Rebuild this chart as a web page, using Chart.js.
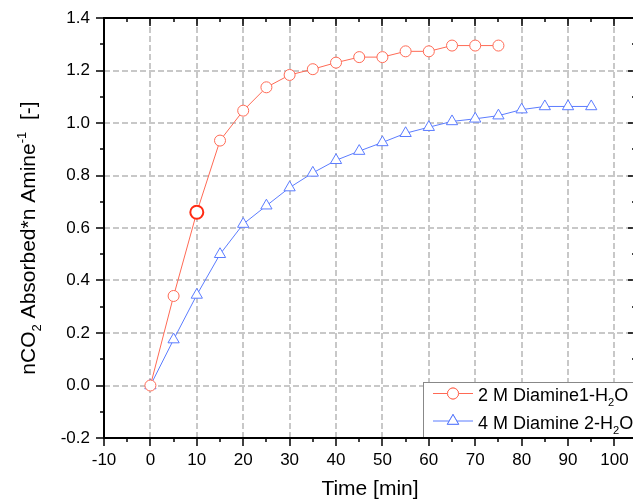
<!DOCTYPE html>
<html>
<head>
<meta charset="utf-8">
<script src="https://cdn.jsdelivr.net/npm/chart.js@4.4.1/dist/chart.umd.min.js"></script>
<style>
  html, body { margin: 0; padding: 0; background: #fff; overflow: hidden; }
  canvas { display: block; }
</style>
</head>
<body>
<canvas id="chart" width="633" height="502"></canvas>
<script>
// absorption runs, time in minutes
const timeDiamine1 = [0, 5, 10, 15, 20, 25, 30, 35, 40, 45, 50, 55, 60, 65, 70, 75];
const loadDiamine1 = [0, 0.341, 0.66, 0.933, 1.047, 1.136, 1.183, 1.205, 1.23, 1.251, 1.251, 1.273, 1.273, 1.295, 1.295, 1.295];

const timeDiamine2 = [0, 5, 10, 15, 20, 25, 30, 35, 40, 45, 50, 55, 60, 65, 70, 75, 80, 85, 90, 95];
const loadDiamine2 = [0, 0.175, 0.345, 0.50, 0.615, 0.685, 0.754, 0.81, 0.858, 0.893, 0.926, 0.961, 0.984, 1.006, 1.016, 1.028, 1.051, 1.063, 1.063, 1.063];

const xTickValues = [-10, 0, 10, 20, 30, 40, 50, 60, 70, 80, 90, 100];
const yTickValues = [-0.2, 0, 0.2, 0.4, 0.6, 0.8, 1.0, 1.2, 1.4];

const seriesNames = [
  [['2 M Diamine1-H', 0], ['2', -1], ['O', 0]],
  [['4 M Diamine 2-H', 0], ['2', -1], ['O', 0]]
];
const xTitle = [['Time [min]', 0]];
const yTitle = [['nCO', 0], ['2', -1], [' Absorbed*n Amine', 0], ['-1', 1], ['  [-]', 0]];

const xRange = [-10, 104];
const yRange = [-0.2, 1.4];

const FONT = "'Liberation Sans', Arial, sans-serif";
const RED = '#ff6a55';
const RED_DARK = '#ff2a12';
const BLUE = '#5b7cff';
const GRID = '#c8c8c8';

function richText(ctx, parts, x, y, size, align) {
  var fontFor = function (s) { return (s ? size * 0.62 : size) + 'px ' + FONT; };
  var w = 0;
  parts.forEach(function (p) { ctx.font = fontFor(p[1]); w += ctx.measureText(p[0]).width; });
  var cx = align === 'center' ? x - w / 2 : x;
  parts.forEach(function (p) {
    ctx.font = fontFor(p[1]);
    var dy = p[1] < 0 ? size * 0.3 : (p[1] > 0 ? -size * 0.42 : 0);
    ctx.fillText(p[0], cx, y + dy);
    cx += ctx.measureText(p[0]).width;
  });
}

function seg(ctx, x1, y1, x2, y2) {
  ctx.beginPath();
  ctx.moveTo(x1, y1);
  ctx.lineTo(x2, y2);
  ctx.stroke();
}

// vertical dashed grid for the time axis, under the data
const timeGrid = {
  id: 'timeGrid',
  beforeDatasetsDraw(chart) {
    var ctx = chart.ctx, a = chart.chartArea, x = chart.scales.x;
    ctx.save();
    ctx.strokeStyle = GRID;
    ctx.lineWidth = 2;
    ctx.setLineDash([6, 3]);
    xTickValues.forEach(function (v) {
      var px = Math.round(x.getPixelForValue(v));
      seg(ctx, px, a.top, px, a.bottom);
    });
    ctx.restore();
  }
};

// axes frame, tick marks, time labels, titles and the boxed legend
const frame = {
  id: 'frame',
  afterDraw(chart) {
    var ctx = chart.ctx, a = chart.chartArea;
    var x = chart.scales.x, y = chart.scales.y;
    ctx.save();
    ctx.strokeStyle = '#000';
    ctx.lineWidth = 1.5;

    for (var v = -10; v <= xRange[1]; v += 5) {
      var px = Math.round(x.getPixelForValue(v));
      var len = v % 10 === 0 ? 8 : 4;
      seg(ctx, px, a.bottom, px, a.bottom + len);
      seg(ctx, px, a.top, px, a.top + len);
    }
    // right-hand ticks sit on an axis just past the canvas edge
    var rx = a.right + 3;
    for (var k = -2; k <= 14; k++) {
      var py = Math.round(y.getPixelForValue(k / 10));
      var l = k % 2 === 0 ? 8 : 4;
      seg(ctx, a.left - l, py, a.left, py);
      seg(ctx, rx - l, py, rx, py);
    }

    // time tick labels
    ctx.fillStyle = '#000';
    ctx.font = '17px ' + FONT;
    ctx.textAlign = 'center';
    ctx.textBaseline = 'alphabetic';
    xTickValues.forEach(function (t) {
      ctx.fillText(String(t), x.getPixelForValue(t), a.bottom + 27);
    });
    ctx.textAlign = 'left';

    // legend
    var lx = 423, ly = 382;
    ctx.fillStyle = '#fff';
    ctx.fillRect(lx, ly, a.right - lx + 10, a.bottom - ly);
    ctx.strokeStyle = '#888';
    ctx.lineWidth = 1;
    ctx.strokeRect(lx + 0.5, ly + 0.5, a.right - lx + 10, a.bottom - ly);

    var rows = [393.5, 421];
    chart.data.datasets.forEach(function (ds, i) {
      var ry = rows[i];
      ctx.strokeStyle = ds.borderColor;
      ctx.lineWidth = 1;
      seg(ctx, 433, ry, 473, ry);
      Chart.helpers.drawPoint(ctx, {
        pointStyle: ds.pointStyle, radius: ds.legendRadius, borderWidth: 1, rotation: 0
      }, 453, ry);
      ctx.fillStyle = '#fff';
      ctx.fill();
      ctx.stroke();
      ctx.fillStyle = '#000';
      richText(ctx, seriesNames[i], 478, ry + 7.5, 18, 'left');
    });

    // axis lines
    ctx.strokeStyle = '#000';
    ctx.lineWidth = 2;
    seg(ctx, a.left - 1, a.bottom, a.right, a.bottom);
    seg(ctx, a.left - 1, a.top, a.right, a.top);
    seg(ctx, a.left, a.top - 1, a.left, a.bottom + 1);

    // titles
    ctx.fillStyle = '#000';
    richText(ctx, xTitle, 370, 495, 21, 'center');
    ctx.translate(35, 238);
    ctx.rotate(-Math.PI / 2);
    richText(ctx, yTitle, 0, 0, 21, 'center');
    ctx.restore();
  }
};

function points(xs, ys) {
  return xs.map(function (t, i) { return { x: t, y: ys[i] }; });
}

// keep the plot box fixed regardless of label overhang
function fixX(s) {
  s.height = 64;
  s.paddingLeft = 0;
  s.paddingRight = 0;
}
function fixY(s) {
  s.width = 104;
  s.paddingTop = 0;
  s.paddingBottom = 0;
}

new Chart(document.getElementById('chart'), {
  type: 'line',
  data: {
    datasets: [
      {
        label: '2 M Diamine1-H2O',
        data: points(timeDiamine1, loadDiamine1),
        borderColor: RED,
        borderWidth: 1,
        tension: 0,
        pointStyle: 'circle',
        legendRadius: 5.5,
        pointRadius: timeDiamine1.map(function (t) { return t === 10 ? 6.5 : 5.5; }),
        pointBorderWidth: timeDiamine1.map(function (t) { return t === 10 ? 2 : 1; }),
        pointBorderColor: timeDiamine1.map(function (t) { return t === 10 ? RED_DARK : RED; }),
        pointBackgroundColor: '#fff'
      },
      {
        label: '4 M Diamine 2-H2O',
        data: points(timeDiamine2, loadDiamine2),
        borderColor: BLUE,
        borderWidth: 1,
        tension: 0,
        pointStyle: 'triangle',
        legendRadius: 6.5,
        pointRadius: 6.5,
        pointBorderWidth: 1,
        pointBorderColor: BLUE,
        pointBackgroundColor: '#fff'
      }
    ]
  },
  options: {
    responsive: false,
    animation: false,
    layout: { autoPadding: false, padding: { top: 18, left: 0, right: 0, bottom: 0 } },
    plugins: { legend: { display: false }, tooltip: { enabled: false } },
    scales: {
      x: {
        type: 'linear',
        bounds: 'data',
        min: xRange[0],
        max: xRange[1],
        afterFit: fixX,
        grid: { display: false },
        border: { display: false },
        ticks: { display: false }
      },
      y: {
        type: 'linear',
        bounds: 'data',
        min: yRange[0],
        max: yRange[1],
        afterFit: fixY,
        afterBuildTicks: function (s) { s.ticks = yTickValues.map(function (v) { return { value: v }; }); },
        grid: { color: GRID, lineWidth: 2, drawTicks: false },
        border: { display: false, dash: [6, 3] },
        ticks: {
          padding: 14, color: '#000',
          font: { family: FONT, size: 17 },
          callback: function (v) { return v.toFixed(1); }
        }
      }
    }
  },
  plugins: [timeGrid, frame]
});
</script>
</body>
</html>
